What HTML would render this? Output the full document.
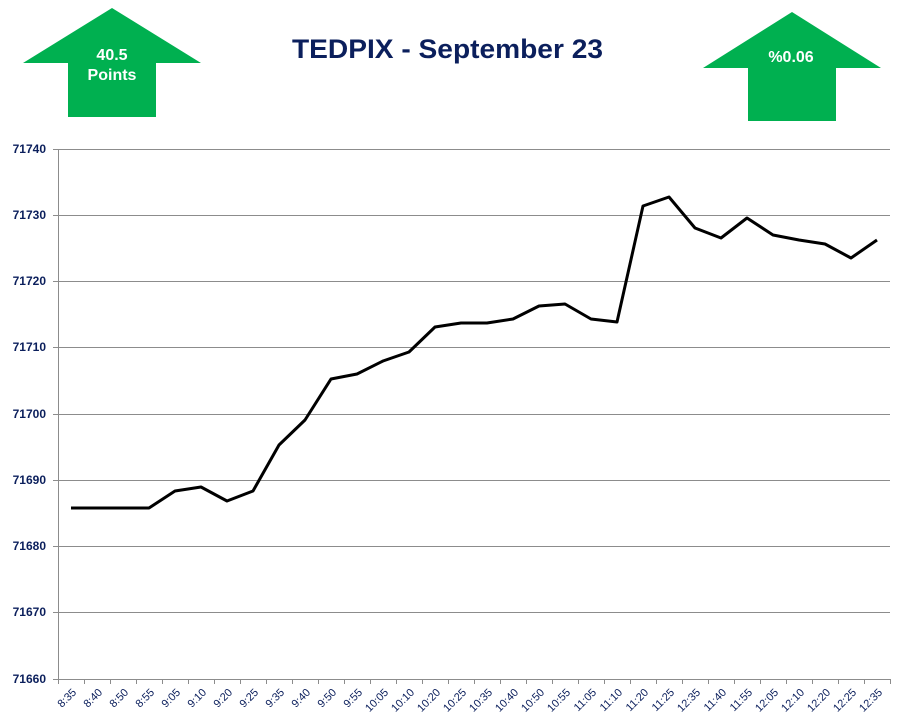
<!DOCTYPE html>
<html><head><meta charset="utf-8"><style>
html,body{margin:0;padding:0;background:#fff;}
svg{display:block;}
</style></head><body>
<svg width="901" height="727" xmlns="http://www.w3.org/2000/svg" font-family="Liberation Sans, sans-serif">
<rect width="901" height="727" fill="#fff"/>
<polygon points="112,8 201,63 156,63 156,117 68,117 68,63 23,63" fill="#00b050"/>
<polygon points="792,12 881,68 836,68 836,121 748,121 748,68 703,68" fill="#00b050"/>
<text x="112" y="60" font-size="16" font-weight="bold" fill="#fff" text-anchor="middle">40.5</text>
<text x="112" y="80" font-size="16" font-weight="bold" fill="#fff" text-anchor="middle">Points</text>
<text x="791" y="62" font-size="16" font-weight="bold" fill="#fff" text-anchor="middle">%0.06</text>
<text x="292" y="58" font-size="27" font-weight="bold" fill="#0b1f5c" textLength="311" lengthAdjust="spacingAndGlyphs">TEDPIX - September 23</text>
<g stroke="#8c8c8c" stroke-width="1">
<line x1="53" y1="149.5" x2="890" y2="149.5"/>
<line x1="53" y1="215.5" x2="890" y2="215.5"/>
<line x1="53" y1="281.5" x2="890" y2="281.5"/>
<line x1="53" y1="347.5" x2="890" y2="347.5"/>
<line x1="53" y1="414.5" x2="890" y2="414.5"/>
<line x1="53" y1="480.5" x2="890" y2="480.5"/>
<line x1="53" y1="546.5" x2="890" y2="546.5"/>
<line x1="53" y1="612.5" x2="890" y2="612.5"/>
<line x1="53" y1="679.5" x2="890" y2="679.5"/>
<line x1="58.5" y1="149" x2="58.5" y2="679"/>
</g>
<g stroke="#8c8c8c" stroke-width="1" id="ticks"></g>
<g font-size="12" font-weight="bold" fill="#0b1f5c" text-anchor="end">
<text x="46" y="153">71740</text>
<text x="46" y="219">71730</text>
<text x="46" y="285">71720</text>
<text x="46" y="351">71710</text>
<text x="46" y="418">71700</text>
<text x="46" y="484">71690</text>
<text x="46" y="550">71680</text>
<text x="46" y="616">71670</text>
<text x="46" y="683">71660</text>
</g>
<g id="xl" font-size="11" fill="#0b1f5c" text-anchor="end"></g>
<polyline fill="none" stroke="#000" stroke-width="3" stroke-linejoin="round" points="71,508 97,508 123,508 149,508 175,491 201,487 227,501 253,491 279,445 305,420 331,379 357,374 383,361 409,352 435,327 461,323 487,323 513,319 539,306 565,304 591,319 617,322 643,206 669,197 695,228 721,238 747,218 773,235 799,240 825,244 851,258 877,240"/>
<script>
var labs="8:35,8:40,8:50,8:55,9:05,9:10,9:20,9:25,9:35,9:40,9:50,9:55,10:05,10:10,10:20,10:25,10:35,10:40,10:50,10:55,11:05,11:10,11:20,11:25,12:35,11:40,11:55,12:05,12:10,12:20,12:25,12:35".split(",");
var ns="http://www.w3.org/2000/svg",t=document.getElementById("ticks"),xl=document.getElementById("xl");
for(var i=0;i<=32;i++){var x=58.5+i*26;var l=document.createElementNS(ns,"line");l.setAttribute("x1",x);l.setAttribute("x2",x);l.setAttribute("y1",679);l.setAttribute("y2",684);t.appendChild(l);}
for(var i=0;i<32;i++){var cx=71+i*26+6;var tx=document.createElementNS(ns,"text");tx.setAttribute("x",cx);tx.setAttribute("y",693);tx.setAttribute("transform","rotate(-45 "+cx+" 693)");tx.textContent=labs[i];xl.appendChild(tx);}
</script>
</svg>
</body></html>
